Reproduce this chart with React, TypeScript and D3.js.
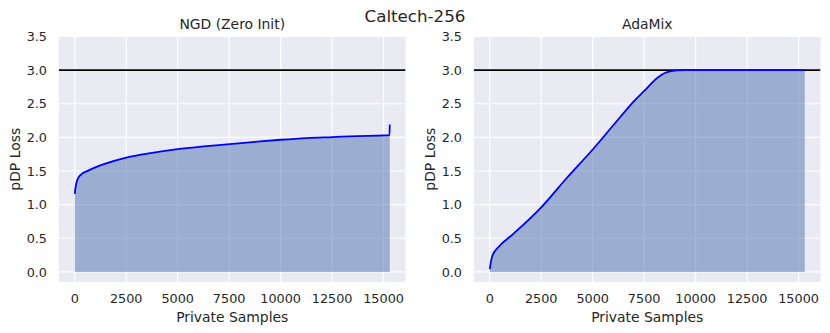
import * as d3 from 'd3';

// sorted per-sample privacy loss
const ngdX = [0, 40, 115, 276, 680, 1490, 2500, 3750, 5000, 6250, 7500, 8750, 10000, 11250, 12500, 13750, 15000, 15290, 15300];
const ngdY = [1.16, 1.26, 1.36, 1.44, 1.51, 1.61, 1.70, 1.77, 1.825, 1.865, 1.90, 1.934, 1.965, 1.99, 2.005, 2.02, 2.03, 2.035, 2.19];

const adaX = [0, 40, 116, 437, 1087, 2500, 3750, 5000, 6000, 7100, 7500, 8120, 8610, 9100, 9500, 15300];
const adaY = [0.04, 0.12, 0.23, 0.375, 0.55, 0.96, 1.40, 1.82, 2.18, 2.57, 2.69, 2.88, 2.97, 2.995, 3.0, 3.0];

const xTicks = [0, 2500, 5000, 7500, 10000, 12500, 15000];
const yTicks = [0, 0.5, 1, 1.5, 2, 2.5, 3, 3.5];
const budget = 3.0;

const W = 830, H = 333;
const textColor = '#262626';
const font = '"DejaVu Sans", sans-serif';

function Panel({ left, title, xs, ys, id }) {
  const width = 346.5;
  const top = 36.5, bottom = 282;
  const x = d3.scaleLinear().domain([-765, 16065]).range([left, left + width]);
  const y = d3.scaleLinear().domain([-0.15, 3.5]).range([bottom, top]);
  const pts = xs.map((v, i) => [v, ys[i]]);

  const area = d3.area()
    .x(d => x(d[0]))
    .y0(y(0))
    .y1(d => y(d[1]))
    .curve(d3.curveMonotoneX);
  const line = d3.line()
    .x(d => x(d[0]))
    .y(d => y(d[1]))
    .curve(d3.curveMonotoneX);

  return (
    <g>
      <defs>
        <clipPath id={id}>
          <rect x={left} y={top} width={width} height={bottom - top} />
        </clipPath>
      </defs>
      <rect x={left} y={top} width={width} height={bottom - top} fill="#EAEAF2" />
      {xTicks.map(t => (
        <line key={'gx' + t} x1={x(t)} x2={x(t)} y1={top} y2={bottom} stroke="#fff" strokeWidth={1.16} />
      ))}
      {yTicks.map(t => (
        <line key={'gy' + t} x1={left} x2={left + width} y1={y(t)} y2={y(t)} stroke="#fff" strokeWidth={1.16} />
      ))}
      <g clipPath={`url(#${id})`}>
        <path d={area(pts)} fill="#4C72B0" fillOpacity={0.5} />
        <line x1={left} x2={left + width} y1={y(budget)} y2={y(budget)} stroke="#000" strokeWidth={1.8} />
        <path d={line(pts)} fill="none" stroke="#0000FF" strokeWidth={1.8} />
      </g>
      {yTicks.map(t => (
        <text key={'ty' + t} x={left - 12} y={y(t)} dy="0.36em" textAnchor="end"
          fontSize={12.8} fill={textColor} fontFamily={font}>{t.toFixed(1)}</text>
      ))}
      {xTicks.map(t => (
        <text key={'tx' + t} x={x(t)} y={303.3} textAnchor="middle"
          fontSize={12.8} fill={textColor} fontFamily={font}>{t}</text>
      ))}
      <text x={left + width / 2} y={321.5} textAnchor="middle" fontSize={13.9}
        fill={textColor} fontFamily={font}>Private Samples</text>
      <text transform={`translate(${left - 39},${(top + bottom) / 2}) rotate(-90)`} textAnchor="middle"
        fontSize={13.9} fill={textColor} fontFamily={font}>pDP Loss</text>
      <text x={left + width / 2} y={29} textAnchor="middle" fontSize={13.9}
        fill={textColor} fontFamily={font}>{title}</text>
    </g>
  );
}

export default function App() {
  return (
    <div style={{ position: 'fixed', left: 0, top: 0 }}>
      <svg width={W} height={H} style={{ display: 'block', background: '#fff' }}>
        <text x={415} y={21.5} textAnchor="middle" fontSize={16.7} fill={textColor} fontFamily={font}>Caltech-256</text>
        <Panel id="clipA" left={59} title="NGD (Zero Init)" xs={ngdX} ys={ngdY} />
        <Panel id="clipB" left={474} title="AdaMix" xs={adaX} ys={adaY} />
      </svg>
    </div>
  );
}
